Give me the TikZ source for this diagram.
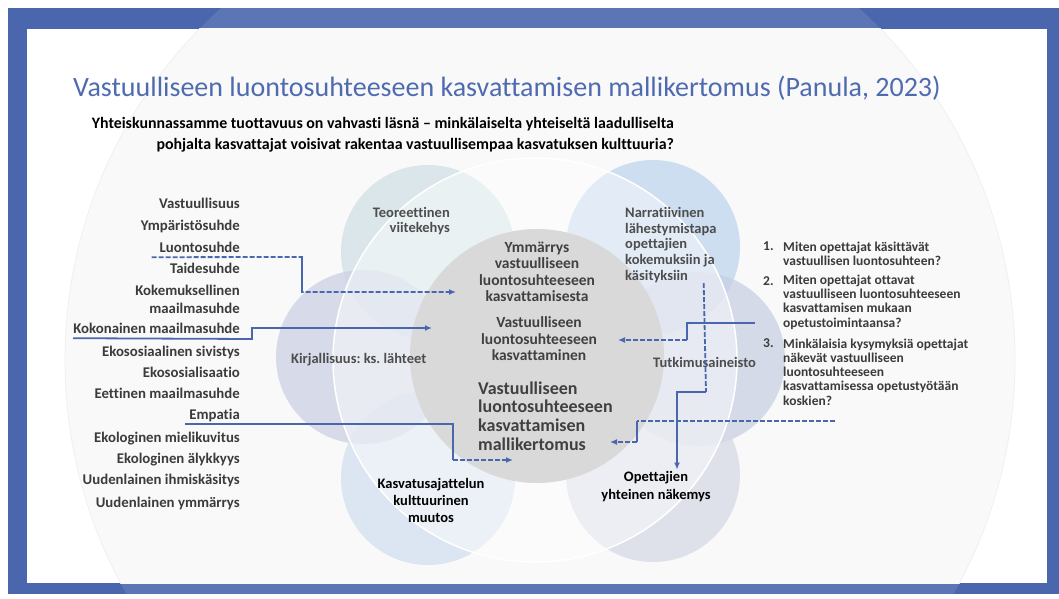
\documentclass[tikz,border=0pt]{standalone}
\usepackage{fontspec}
\setmainfont{Carlito}[Ligatures=NoCommon]
\usepackage{tikz}
\usepackage{xcolor}
\usetikzlibrary{arrows.meta}
\frenchspacing

\definecolor{frameblue}{HTML}{4A66AD}
\definecolor{titleblue}{HTML}{4F6BB0}
\definecolor{bggray}{HTML}{F9F9F9}
\definecolor{diskgray}{HTML}{D9D9D9}
\definecolor{petTL}{HTML}{D0E0E5}
\definecolor{petTR}{HTML}{BED6ED}
\definecolor{petR}{HTML}{C9D0E4}
\definecolor{petBR}{HTML}{D6DAE5}
\definecolor{petBL}{HTML}{D1E0F0}
\definecolor{petL}{HTML}{CCD1E4}
\definecolor{txtgray}{HTML}{3B3B3B}
\definecolor{ctrgray}{HTML}{404040}
\definecolor{labgray}{HTML}{4D4D4D}

\begin{document}
\begin{tikzpicture}[x=1pt, y=-1pt, >={Latex[length=7pt,width=6pt]},
    every node/.style={inner sep=0pt},
    line/.style={draw=frameblue, line width=1.8pt},
    dline/.style={line, dash pattern=on 5pt off 2pt},
    petal/.style={fill opacity=0.75},
    listitem/.style={anchor=base east, inner ysep=5pt, text depth=0pt, text=txtgray,
        font=\fontsize{14.8}{18}\selectfont\bfseries},
    petallabel/.style={text=labgray, font=\fontsize{14.5}{15.8}\selectfont\bfseries},
    centertext/.style={text=ctrgray, align=center, font=\fontsize{15.5}{16.5}\selectfont\bfseries},
    question/.style={anchor=west, align=left, text=txtgray, font=\fontsize{13.5}{14.3}\selectfont\bfseries}]
    \useasboundingbox (0,0) rectangle (1059,599);
    \fill[frameblue] (8,8) rectangle (1059,594);
    \begin{scope}
        \clip (8,8) rectangle (1059,594);
        \fill[white, opacity=0.1] (540,360) circle [radius=475pt];
    \end{scope}
    \fill[white] (27,29) rectangle (1047,583);
    \begin{scope}
        \clip (27,29) rectangle (1047,583);
        \filldraw[fill=bggray, draw=black!6, line width=0.8pt] (540,360) circle [radius=475pt];
    \end{scope}

    \fill[petTL, petal] (428,252) circle [radius=87pt];
    \fill[petTR, petal] (653,247) circle [radius=87pt];
    \fill[petR, petal] (698,359) circle [radius=87pt];
    \fill[petBR, petal] (653,475) circle [radius=87pt];
    \fill[petBL, petal] (428,478) circle [radius=87pt];
    \fill[petL, petal] (363,357) circle [radius=87pt];
    \filldraw[fill=white, fill opacity=0.45, draw=white, line width=1.5pt] (535,360) circle [radius=202pt];
    \fill[diskgray] (537,356) circle [radius=127pt];

    \node[anchor=base west, text=titleblue, font=\fontsize{28}{30}\selectfont] (title) at (73,97)
        {Vastuulliseen luontosuhteeseen kasvattamisen mallikertomus (Panula, 2023)};
    \node[anchor=east, align=right, font=\fontsize{15.9}{20.5}\selectfont\bfseries] (question) at (674,135)
        {Yhteiskunnassamme tuottavuus on vahvasti läsnä – minkälaiselta yhteiseltä laadulliselta\\
         pohjalta kasvattajat voisivat rakentaa vastuullisempaa kasvatuksen kulttuuria?};

    \node[listitem] (vastuu) at (240,208) {Vastuullisuus};
    \node[listitem] (ympar) at (240,230) {Ympäristösuhde};
    \node[listitem] (luonto) at (240,252) {Luontosuhde};
    \node[listitem] (taide) at (240,273) {Taidesuhde};
    \node[listitem, anchor=east, align=right, inner ysep=0pt] (kokem) at (240,299) {Kokemuksellinen\\maailmasuhde};
    \node[listitem] (kokon) at (240,333) {Kokonainen maailmasuhde};
    \node[listitem] (sivist) at (240,356) {Ekososiaalinen sivistys};
    \node[listitem] (sosial) at (240,377) {Ekososialisaatio};
    \node[listitem] (eetti) at (240,398) {Eettinen maailmasuhde};
    \node[listitem] (empatia) at (240,419) {Empatia};
    \node[listitem] (mieli) at (240,442) {Ekologinen mielikuvitus};
    \node[listitem] (aly) at (240,463) {Ekologinen älykkyys};
    \node[listitem] (ihmis) at (240,484) {Uudenlainen ihmiskäsitys};
    \node[listitem] (ymmar) at (240,507) {Uudenlainen ymmärrys};

    \node[centertext] (cymm) at (537,272) {Ymmärrys\\vastuulliseen\\luontosuhteeseen\\kasvattamisesta};
    \node[centertext] (ckasv) at (539,339) {Vastuulliseen\\luontosuhteeseen\\kasvattaminen};
    \node[centertext, anchor=west, align=left, font=\fontsize{18}{18.7}\selectfont\bfseries] (cmalli) at (478,416)
        {Vastuulliseen\\luontosuhteeseen\\kasvattamisen\\mallikertomus};

    \node[petallabel, anchor=east, align=right] (teor) at (450,221) {Teoreettinen\\viitekehys};
    \node[petallabel, anchor=west, align=left] (narr) at (625,245)
        {Narratiivinen\\lähestymistapa\\opettajien\\kokemuksiin ja\\käsityksiin};
    \node[petallabel, anchor=west] (kirj) at (291,360) {Kirjallisuus: ks. lähteet};
    \node[petallabel, anchor=west] (tutk) at (653,362) {Tutkimusaineisto};
    \node[petallabel, text=black, align=center, font=\fontsize{14.5}{17}\selectfont\bfseries] (kasvat) at (431,500)
        {Kasvatusajattelun\\kulttuurinen\\muutos};
    \node[petallabel, text=black, align=center, font=\fontsize{14.5}{18}\selectfont\bfseries] (opet) at (656,487)
        {Opettajien\\yhteinen näkemys};

    \node[question] (q1) at (783,254) {Miten opettajat käsittävät\\vastuullisen luontosuhteen?};
    \node[question] (q2) at (783,302) {Miten opettajat ottavat\\vastuulliseen luontosuhteeseen\\kasvattamisen mukaan\\opetustoimintaansa?};
    \node[question] (q3) at (783,372) {Minkälaisia kysymyksiä opettajat\\näkevät vastuulliseen\\luontosuhteeseen\\kasvattamisessa opetustyötään\\koskien?};
    \node[question] (n1) at (763,246) {1.};
    \node[question] (n2) at (763,281) {2.};
    \node[question] (n3) at (763,343) {3.};

    \coordinate (tipYmm) at (456,292);
    \coordinate (tipKasv) at (432,328);
    \coordinate (tipMalli) at (513,460);
    \coordinate (tipQ2) at (618,340);
    \coordinate (tipQ3) at (610,442);
    \coordinate (q2line) at (755,323);
    \coordinate (q3line) at (835,421);

    \draw[dline, ->] ([xshift=-8pt]luonto.south west) -- (302,257) |- (tipYmm);
    \draw[line] (302,257) -- (302,292);
    \draw[line, ->] (kokon.south west) -- (252,339) |- (tipKasv);
    \draw[line] ([xshift=-4pt]empatia.south west) -| (453,460);
    \draw[dline, ->] (453,460) -- (tipMalli);
    \draw[line] (q2line) -| (687,340);
    \draw[dline, ->] (687,340) -- (tipQ2);
    \draw[dline] (q3line) -- (637,421);
    \draw[line] (637,421) -- (637,442);
    \draw[dline, ->] (637,442) -- (tipQ3);
    \draw[dline] ([xshift=-13pt]narr.south east) -- (706,392);
    \draw[line, ->] (706,392) -| ([xshift=21pt, yshift=2pt]opet.north);
\end{tikzpicture}
\end{document}
